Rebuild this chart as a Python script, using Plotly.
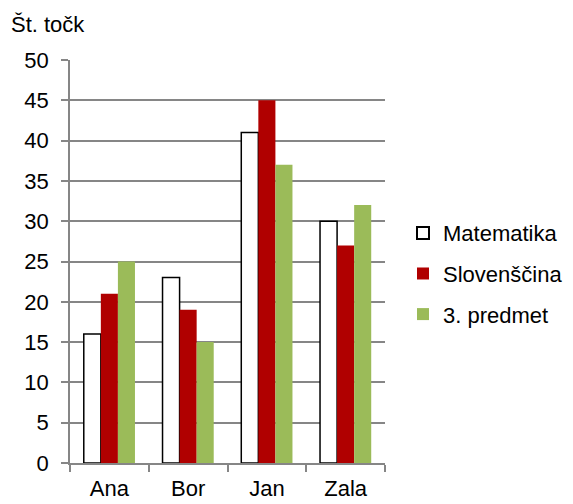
import plotly.graph_objects as go

categories = ["Ana", "Bor", "Jan", "Zala"]
matematika = [16, 23, 41, 30]
slovenscina = [21, 19, 45, 27]
predmet3 = [25, 15, 37, 32]
series_names = ["Matematika", "Slovenščina", "3. predmet"]
y_ticks = [0, 5, 10, 15, 20, 25, 30, 35, 40, 45, 50]

xpos = list(range(len(categories)))
boundaries = [i - 0.5 for i in range(len(categories) + 1)]

fig = go.Figure()
fig.add_trace(go.Bar(x=xpos, y=matematika, name=series_names[0], legendgroup="a",
                     marker=dict(color="white", line=dict(color="black", width=1.5))))
fig.add_trace(go.Bar(x=xpos, y=slovenscina, name=series_names[1], legendgroup="b",
                     marker=dict(color="#B00000", line=dict(width=0))))
fig.add_trace(go.Bar(x=xpos, y=predmet3, name=series_names[2], legendgroup="c",
                     marker=dict(color="#9BBB59", line=dict(width=0))))

font = "Liberation Sans, Arial, sans-serif"
L, R, T, B = 62, 196, 52, 49
pw = 573 - L - R
ph = 504 - T - B
fig.update_layout(
    width=573, height=504,
    barmode="group", bargap=0.35, bargroupgap=0,
    plot_bgcolor="white", paper_bgcolor="white",
    font=dict(family=font, size=22, color="black"),
    margin=dict(l=L, r=R, t=T, b=B, autoexpand=False),
    showlegend=True,
    legend=dict(x=(395 - L) / pw, y=0.47, xanchor="left", yanchor="middle",
                font=dict(size=22), itemsizing="constant",
                traceorder="grouped", tracegroupgap=9, itemwidth=30),
)
fig.add_annotation(text="Št. točk", xref="paper", yref="paper",
                   x=(1 - L) / pw, y=1 + (T - 17) / ph,
                   xanchor="left", yanchor="middle", showarrow=False,
                   font=dict(size=22))
fig.update_xaxes(
    range=[-0.5, len(categories) - 0.5],
    tickvals=xpos, ticktext=categories, ticks="", showgrid=False,
    showline=True, linecolor="#868686", linewidth=1.5,
    tickfont=dict(size=22), ticklabelstandoff=5,
    minor=dict(tickvals=boundaries, ticks="outside", ticklen=7,
               tickcolor="#868686", tickwidth=1.5, showgrid=False),
    zeroline=False,
)
fig.update_yaxes(
    range=[0, 50], tickvals=y_ticks, ticks="outside", ticklen=7,
    tickcolor="#868686", tickwidth=1.5,
    showgrid=True, gridcolor="#868686", gridwidth=1.5,
    showline=True, linecolor="#868686", linewidth=1.5,
    zeroline=False, tickfont=dict(size=22), ticklabelstandoff=8,
)
fig.write_html("out.html")
